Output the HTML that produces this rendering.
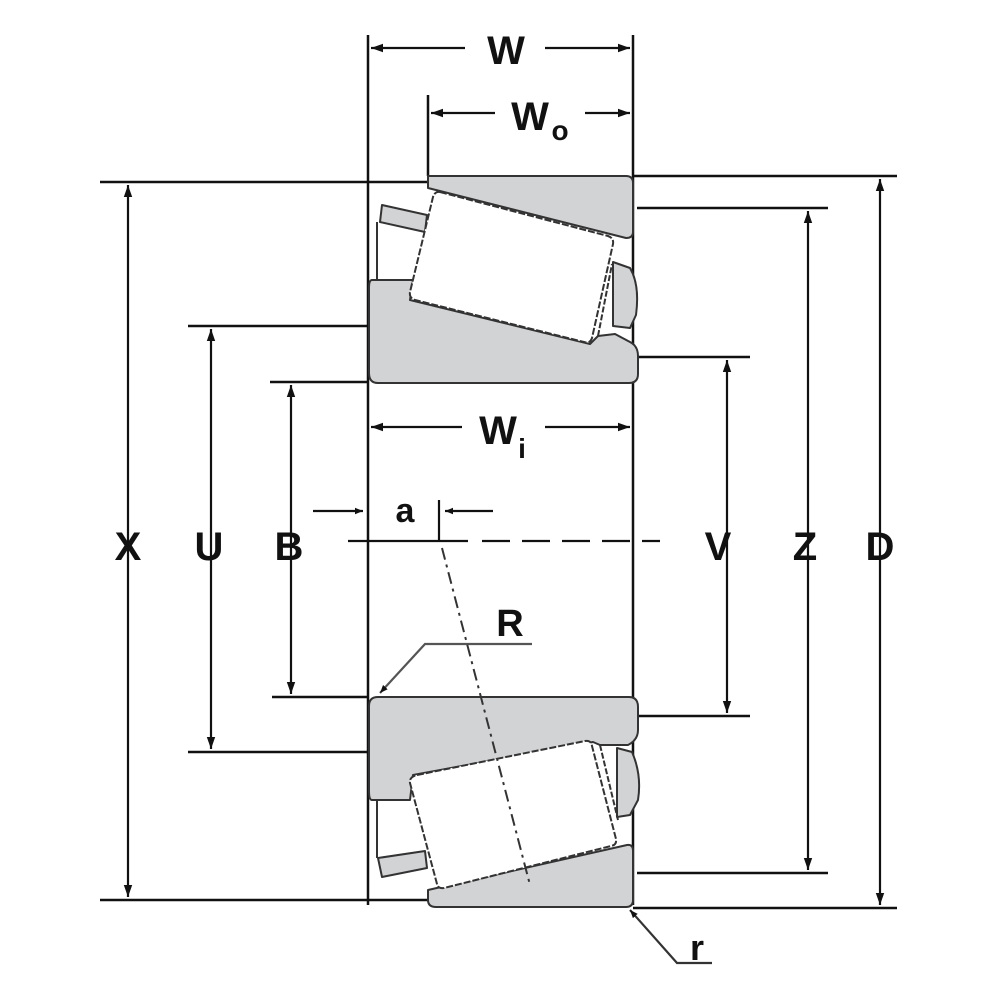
<!DOCTYPE html>
<html><head><meta charset="utf-8"><style>
html,body{margin:0;padding:0;background:#fff;}
svg{display:block;}
text{font-family:"Liberation Sans",Arial,sans-serif;fill:#111;}
</style></head><body>
<svg width="1000" height="1000" viewBox="0 0 1000 1000" xmlns="http://www.w3.org/2000/svg">
<defs>
<marker id="ah" viewBox="0 0 10 10" refX="10" refY="5" markerWidth="8" markerHeight="8" orient="auto-start-reverse" markerUnits="userSpaceOnUse"><path d="M0,1 L10,5 L0,9 Z" fill="#111"/></marker>
<marker id="ahs" viewBox="0 0 10 10" refX="10" refY="5" markerWidth="14" markerHeight="12" orient="auto-start-reverse" markerUnits="userSpaceOnUse"><path d="M0,1.5 L10,5 L0,8.5 Z" fill="#111"/></marker>
</defs>
<g stroke="#111" stroke-width="2.5" fill="none">
<line x1="368" y1="35" x2="368" y2="905"/>
<line x1="633" y1="35" x2="633" y2="905"/>
<line x1="428" y1="95" x2="428" y2="176"/>
<line x1="100" y1="182" x2="428" y2="182"/>
<line x1="633" y1="176" x2="897" y2="176"/>
<line x1="637" y1="208" x2="828" y2="208"/>
<line x1="188" y1="326" x2="368" y2="326"/>
<line x1="638" y1="357" x2="750" y2="357"/>
<line x1="270" y1="382" x2="368" y2="382"/>
<line x1="272" y1="697" x2="368" y2="697"/>
<line x1="638" y1="716" x2="750" y2="716"/>
<line x1="188" y1="752" x2="368" y2="752"/>
<line x1="637" y1="873" x2="828" y2="873"/>
<line x1="100" y1="900" x2="428" y2="900"/>
<line x1="633" y1="908" x2="897" y2="908"/>
</g>
<g stroke="#111" stroke-width="2.2" fill="none" marker-start="url(#ahs)" marker-end="url(#ahs)">
<line x1="371" y1="48" x2="465" y2="48" marker-end="none"/>
<line x1="545" y1="48" x2="630" y2="48" marker-start="none"/>
<line x1="431" y1="113" x2="495" y2="113" marker-end="none"/>
<line x1="585" y1="113" x2="630" y2="113" marker-start="none"/>
<line x1="371" y1="427" x2="462" y2="427" marker-end="none"/>
<line x1="545" y1="427" x2="630" y2="427" marker-start="none"/>
<line x1="128" y1="185" x2="128" y2="897"/>
<line x1="211" y1="329" x2="211" y2="749"/>
<line x1="291" y1="385" x2="291" y2="694"/>
<line x1="727" y1="360" x2="727" y2="713"/>
<line x1="808" y1="211" x2="808" y2="870"/>
<line x1="880" y1="179" x2="880" y2="905"/>
</g>
<g stroke="#111" stroke-width="2.2" fill="none">
<line x1="313" y1="511" x2="363" y2="511" marker-end="url(#ah)"/>
<line x1="493" y1="511" x2="445" y2="511" marker-end="url(#ah)"/>
<line x1="439" y1="500" x2="439" y2="541"/>
<line x1="348" y1="541" x2="468" y2="541"/>
<line x1="482" y1="541" x2="660" y2="541" stroke-dasharray="28,12"/>
<polyline points="532,644 425,644 380,693" stroke="#555" marker-end="url(#ah)"/>
<polyline points="712,963 677,963 630,910" stroke="#333" marker-end="url(#ah)"/>
</g>
<g stroke="#333" stroke-width="2" fill="#d2d3d5" stroke-linejoin="round">
<path d="M428,176 L626,176 Q633,176 633,183 L633,232 Q633,238 626,238 L428,188 Z"/>
<path d="M372,280 L413,280 L410,300 L590,344 L598,336 L615,334 L630,342 Q638,346 638,356 L638,374 Q638,383 629,383 L378,383 Q369,383 369,373 L369,288 Q369,280 372,280 Z"/>
<path d="M382,205 L427,215 L425,232 L380,222 Z"/>
<path d="M613,262 L630,268 Q640,285 636,315 L630,328 L613,326 Z"/>
<path d="M428,890 L627,845 Q633,844 633,851 L633,900 Q633,907 626,907 L436,907 Q428,907 428,900 Z"/>
<path d="M372,800 L410,800 L413,775 L593,742 L600,745 L628,745 Q638,740 638,730 L638,707 Q638,697 629,697 L378,697 Q369,697 369,706 L369,791 Q369,800 372,800 Z"/>
<path d="M378,858 L425,851 L427,868 L382,877 Z"/>
<path d="M617,748 L632,752 Q642,775 638,800 L630,815 L617,817 Z"/>
</g>
<g stroke="#333" stroke-width="2" fill="#fff" stroke-dasharray="7,2" stroke-linejoin="round">
<path d="M440,192 L608,236 Q614,238 613,244 L592,338 Q590,344 584,342 L415,300 Q409,298 410,292 L433,197 Q435,191 440,192 Z"/>
<path d="M417,775 L585,741 Q591,740 592,746 L616,839 Q617,845 611,846 L444,888 Q438,889 437,884 L410,783 Q409,777 417,775 Z"/>
</g>
<g stroke="#333" stroke-width="2" fill="none">
<line x1="377" y1="222" x2="377" y2="280"/>
<line x1="377" y1="800" x2="377" y2="858"/>
<line x1="598" y1="336" x2="612" y2="264" stroke-dasharray="6,2"/>
<line x1="600" y1="745" x2="618" y2="820" stroke-dasharray="6,2"/>
<line x1="442" y1="548" x2="530" y2="885" stroke-dasharray="12,5,3,5"/>
</g>
<g font-size="40" font-weight="bold" text-anchor="middle">
<text x="506" y="64">W</text>
<text x="530" y="130">W</text>
<text x="498" y="444">W</text>
<text x="128" y="560">X</text>
<text x="209" y="560">U</text>
<text x="289" y="560">B</text>
<text x="718" y="560">V</text>
<text x="805" y="560">Z</text>
<text x="880" y="560">D</text>
<text x="405" y="522" font-size="34">a</text>
<text x="510" y="636" font-size="38">R</text>
<text x="697" y="960" font-size="36">r</text>
<text x="560" y="140" font-size="28">o</text>
<text x="522" y="458" font-size="28">i</text>
</g>
</svg>
</body></html>
